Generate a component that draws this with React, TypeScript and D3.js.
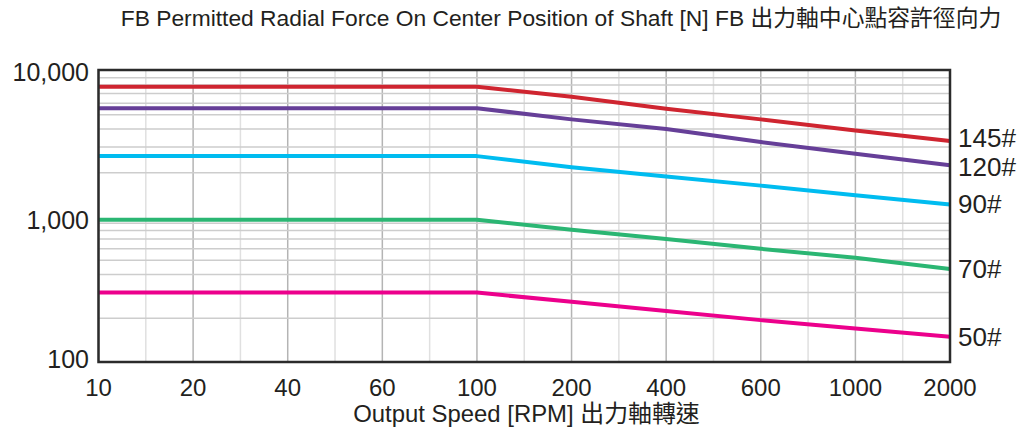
import React from "react";
import * as d3 from "d3";

const speeds = ["10", "20", "40", "60", "100", "200", "400", "600", "1000", "2000"];
const yTicks = [100, 1000, 10000];
const seriesNames = ["145#", "120#", "90#", "70#", "50#"];
const s145 = [7800, 7800, 7800, 7800, 7800, 6650, 5500, 4650, 3900, 3300];
const s120 = [5550, 5550, 5550, 5550, 5550, 4650, 4000, 3250, 2700, 2250];
const s90 = [2600, 2600, 2600, 2600, 2600, 2180, 1880, 1630, 1400, 1210];
const s70 = [950, 950, 950, 950, 950, 810, 700, 600, 520, 436];
const s50 = [300, 300, 300, 300, 300, 259, 224, 194, 170, 149];
const colors = ["#cf2530", "#663f98", "#00bcf0", "#2bb673", "#ec008c"];

const W = 1023;
const H = 432;
const left = 98.5;
const right = 950;
const top = 70;
const bottom = 362;

export default function App() {
  const x = d3.scalePoint<string>().domain(speeds).range([left, right]);
  const y = d3.scaleLog().domain([100, 10000]).range([bottom, top + 1]);
  const all = [s145, s120, s90, s70, s50];
  const line = d3
    .line<number>()
    .x((_, i) => x(speeds[i]) as number)
    .y((v) => y(v));

  const minorY: number[] = [];
  for (let d = 100; d < 10000; d *= 10) {
    for (let k = 2; k <= 9; k++) minorY.push(d * k);
  }
  const majorXs = speeds.map((s) => x(s) as number);
  const minorXs = majorXs.slice(0, -1).map((v, i) => (v + majorXs[i + 1]) / 2);
  const font = "'Liberation Sans', Arial, 'Noto Sans CJK TC', sans-serif";
  const labelDy = [-3, 1, -1, 0, 0];
  const tickDy = [-3, 3, 1];

  return (
    <svg
      width={W}
      height={H}
      style={{ position: "absolute", left: 0, top: 0, background: "#fff" }}
      fontFamily={font}
    >
      <rect x={0} y={0} width={W} height={H} fill="#fff" />
      <text x={561} y={26} textAnchor="middle" fontSize={22.8} fill="#231f20">
        FB Permitted Radial Force On Center Position of Shaft [N] FB 出力軸中心點容許徑向力
      </text>
      {minorXs.map((v, i) => (
        <line key={"mx" + i} x1={v} x2={v} y1={top} y2={bottom} stroke="#e0e0e0" strokeWidth={1.5} />
      ))}
      {majorXs.map((v, i) => (
        <line key={"Mx" + i} x1={v} x2={v} y1={top} y2={bottom} stroke="#b4b4b4" strokeWidth={1.5} />
      ))}
      {minorY.map((v, i) => (
        <line key={"my" + i} x1={left} x2={right} y1={y(v)} y2={y(v)} stroke="#cdcdcd" strokeWidth={1.5} />
      ))}
      {all.map((s, i) => (
        <path key={"l" + i} d={line(s) || ""} fill="none" stroke={colors[i]} strokeWidth={4} strokeLinejoin="round" />
      ))}
      <rect x={left} y={top} width={right - left} height={bottom - top} fill="none" stroke="#2b2b2b" strokeWidth={2.5} />
      {yTicks.map((t, i) => (
        <text key={"yt" + t} x={89} y={y(t) + tickDy[i]} dy="0.36em" textAnchor="end" fontSize={25} fill="#231f20">
          {d3.format(",")(t)}
        </text>
      ))}
      {speeds.map((s) => (
        <text key={"xt" + s} x={x(s) as number} y={396} textAnchor="middle" fontSize={24} fill="#231f20">
          {s}
        </text>
      ))}
      <text x={526.5} y={421.5} textAnchor="middle" fontSize={23.9} fill="#231f20">
        Output Speed [RPM] 出力軸轉速
      </text>
      {all.map((s, i) => (
        <text
          key={"sl" + i}
          x={958}
          y={y(s[s.length - 1]) + labelDy[i]}
          dy="0.36em"
          fontSize={26}
          fill="#231f20"
        >
          {seriesNames[i]}
        </text>
      ))}
    </svg>
  );
}
